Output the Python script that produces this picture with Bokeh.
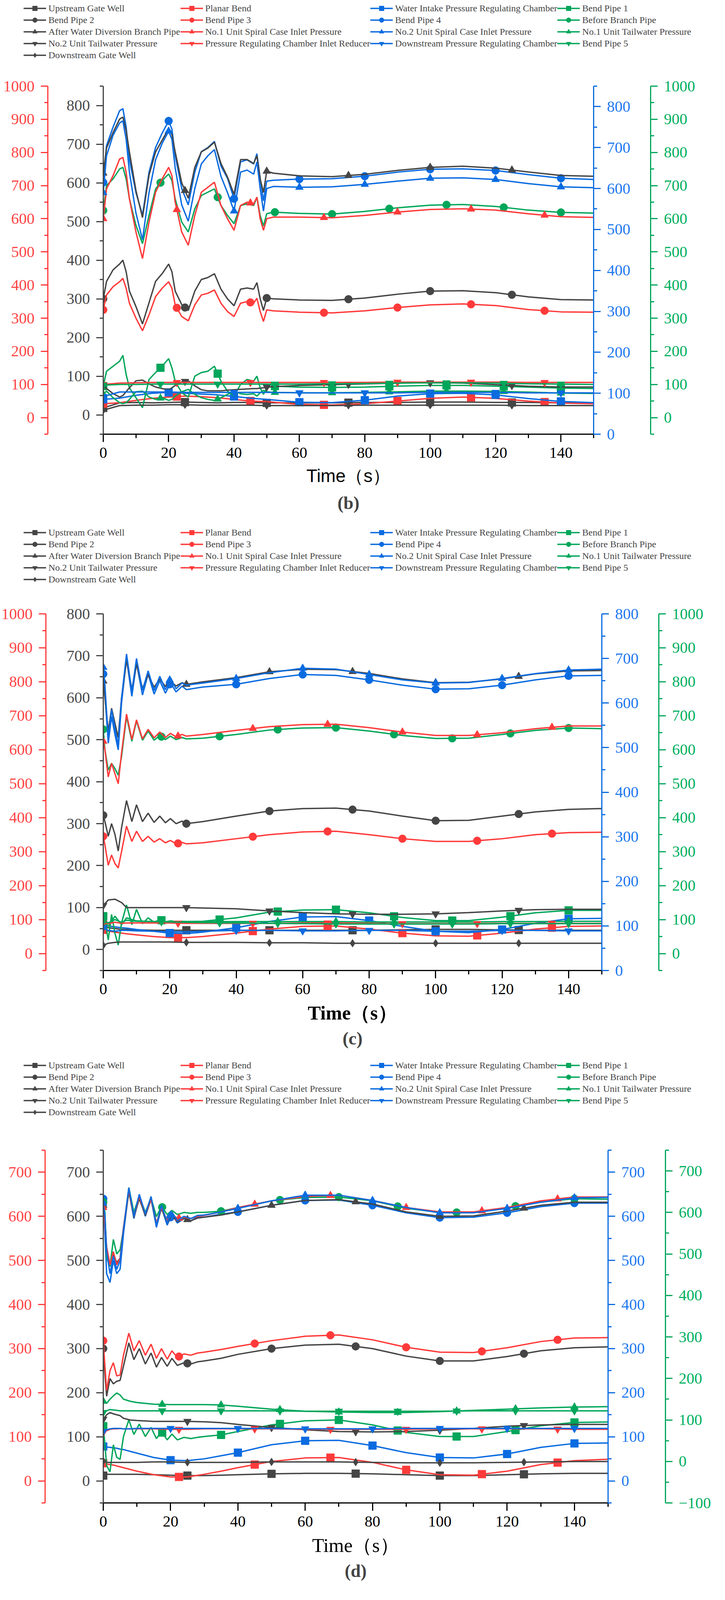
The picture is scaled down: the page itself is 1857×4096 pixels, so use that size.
import numpy as np
from bokeh.plotting import figure
from bokeh.models import (Range1d, LinearAxis, SingleIntervalTicker, Legend,
                          LegendItem, Title, ColumnDataSource)
from bokeh.layouts import column, row
from bokeh.embed import file_html
from bokeh.resources import INLINE

NAMES = ["Upstream Gate Well", "Planar Bend", "Water Intake Pressure Regulating Chamber", "Bend Pipe 1",
         "Bend Pipe 2", "Bend Pipe 3", "Bend Pipe 4", "Before Branch Pipe",
         "After Water Diversion Branch Pipe", "No.1 Unit Spiral Case Inlet Pressure",
         "No.2 Unit Spiral Case Inlet Pressure", "No.1 Unit Tailwater Pressure",
         "No.2 Unit Tailwater Pressure", "Pressure Regulating Chamber Inlet Reducer",
         "Downstream Pressure Regulating Chamber", "Bend Pipe 5", "Downstream Gate Well"]
COLORS = ["#454545", "#ff3a3a", "#0a6be0", "#00a65a"]
LABEL_COLORS = ["#4a4a4a", "#ff4545", "#2079f0", "#00b060"]
MARKERS = ["square", "circle", "triangle", "inverted_triangle", "diamond"]
AXIS_NAME = [None, "red", "blue", "green"]
MARK_T = [[0, 25, 50, 75, 100, 125],
          [0, 22.5, 45, 67.5, 90, 112.5, 135],
          [0, 20, 40, 60, 80, 100, 120, 140],
          [0, 17.5, 35, 52.5, 70, 87.5, 105, 122.5, 140]]

# ---------------- panel (b) ----------------
B_T = [0, 1, 3, 5, 6, 7, 8, 10, 12, 14, 16, 18, 20, 21, 22, 24, 26, 28, 30, 32, 34, 36, 38, 40, 42,
       44, 46, 47, 48, 49, 50, 52, 60, 70, 80, 90, 100, 110, 120, 130, 140, 150]
B_TS = [0, 5, 10, 15, 20, 25, 30, 35, 40, 45, 50, 60, 70, 80, 90, 100, 110, 120, 130, 140, 150]
B_AFTER = [625, 690, 730, 765, 770, 735, 680, 580, 510, 620, 680, 710, 740, 725, 680, 600, 560, 640, 680, 690, 705,
           650, 615, 570, 660, 660, 650, 670, 610, 575, 630, 625, 618, 616, 622, 632, 640, 643, 638, 628, 619, 617]
B_BEND4 = [615, 705, 750, 790, 795, 750, 670, 590, 535, 640, 700, 735, 765, 745, 680, 600, 560, 640, 690, 700, 715,
           655, 625, 575, 665, 670, 660, 685, 625, 570, 618, 620, 623, 624, 630, 640, 647, 648, 644, 634, 625, 622]
B_SPIRAL2 = [590, 680, 730, 760, 765, 720, 640, 540, 475, 590, 670, 710, 740, 720, 650, 560, 520, 600, 660, 680, 695,
             630, 590, 545, 640, 645, 635, 665, 600, 545, 600, 605, 603, 604, 610, 618, 625, 626, 622, 612, 604, 602]
B_SPIRAL1 = [600, 690, 730, 780, 785, 740, 660, 560, 480, 590, 680, 720, 755, 730, 650, 560, 520, 610, 680, 695, 710,
             640, 600, 565, 640, 650, 645, 665, 600, 565, 600, 605, 605, 603, 610, 620, 628, 630, 626, 615, 606, 604]
B_BEFORE = [625, 700, 720, 750, 755, 720, 660, 580, 525, 610, 690, 715, 735, 715, 660, 590, 560, 630, 670, 680, 690,
            640, 610, 585, 640, 645, 640, 665, 610, 578, 615, 620, 616, 614, 622, 633, 641, 643, 637, 626, 619, 617]
B_BEND2 = [300, 345, 375, 390, 400, 370, 320, 280, 235, 290, 345, 365, 390, 370, 320, 285, 270, 320, 350, 355, 365,
           325, 300, 282, 325, 328, 325, 342, 300, 270, 302, 300, 297, 296, 302, 312, 320, 321, 316, 305, 298, 297]
B_BEND3 = [325, 370, 395, 410, 420, 390, 345, 300, 262, 310, 365, 390, 410, 390, 340, 305, 292, 340, 370, 375, 385,
           345, 320, 305, 345, 350, 345, 360, 320, 290, 325, 322, 318, 316, 322, 332, 340, 343, 338, 326, 319, 318]
B_BEND1 = [95, 140, 155, 170, 188, 130, 90, 60, 30, 115, 136, 155, 178, 150, 110, 75, 62, 125, 136, 140, 155,
           110, 80, 65, 100, 115, 110, 125, 90, 70, 90, 95, 92, 91, 92, 95, 97, 97, 95, 92, 89, 88]
B_TAIL1 = [70, 80, 60, 45, 42, 45, 55, 78, 80, 62, 55, 60, 52, 55, 65, 78, 85, 70, 60, 55, 52,
           60, 70, 80, 72, 70, 72, 65, 75, 82, 78, 76, 75, 75, 76, 78, 80, 80, 79, 77, 74, 73]
B_TAIL2 = [75, 68, 55, 46, 50, 60, 70, 88, 90, 80, 72, 68, 65, 70, 76, 85, 88, 75, 65, 62, 62,
           62, 64, 65, 66, 67, 68, 68, 69, 70, 72, 73, 76, 78, 80, 82, 83, 82, 78, 74, 72, 72]
B_UPSTREAM = [18, 31, 32, 31, 32, 33, 32, 31, 32, 32, 31, 31, 31, 32, 32, 33, 33, 32, 32, 31, 31]
B_DOWN_GATE = [12, 24, 25, 25, 26, 26, 25, 25, 25, 25, 24, 24, 24, 25, 25, 25, 25, 25, 24, 24, 24]
B_PLANAR = [42, 45, 52, 58, 62, 65, 63, 60, 55, 50, 48, 40, 38, 42, 50, 58, 62, 58, 50, 44, 42]
B_REDUCER = [100, 104, 105, 106, 106, 106, 106, 106, 106, 106, 106, 106, 106, 106, 107, 107, 107, 107, 106, 106, 106]
B_INTAKE = [85, 88, 95, 100, 102, 100, 98, 96, 92, 88, 85, 78, 77, 83, 93, 99, 100, 96, 87, 80, 77]
B_DOWN_PRC = [92, 103, 103, 103, 103, 102, 102, 102, 102, 102, 102, 101, 101, 101, 101, 102, 102, 102, 101, 101, 101]
B_BEND5 = [98, 100, 100, 101, 101, 101, 101, 101, 101, 101, 101, 101, 102, 103, 104, 105, 105, 104, 102, 101, 100]

# ---------------- panel (c) ----------------
C_T = [0, 0.5, 1.5, 2.5, 3.5, 4.5, 5.5, 7, 8.6, 10, 11.8, 13.5, 15.3, 17, 18.7, 20.2, 21.9, 23.7, 25, 30, 40, 50,
       60, 70, 80, 90, 100, 110, 120, 130, 140, 150]
C_TS = [0, 1.5, 3.5, 5.5, 7, 10, 15, 20, 25, 30, 40, 50, 60, 70, 80, 90, 100, 110, 120, 130, 140, 150]
C_AFTER = [640, 600, 520, 575, 540, 505, 600, 690, 620, 680, 622, 655, 625, 645, 627, 640, 628, 636, 632, 638, 648,
           662, 668, 667, 658, 645, 636, 637, 645, 657, 664, 665]
C_BEND4 = [665, 620, 510, 570, 530, 495, 600, 700, 615, 690, 618, 665, 620, 650, 622, 645, 625, 638, 630, 636, 642,
           655, 664, 662, 652, 640, 631, 632, 640, 652, 661, 662]
C_SPIRAL2 = [680, 640, 520, 585, 545, 505, 610, 710, 625, 700, 628, 672, 628, 660, 630, 655, 632, 645, 640, 645, 655,
             668, 678, 676, 664, 652, 645, 646, 655, 666, 674, 676]
C_SPIRAL1 = [625, 600, 520, 560, 530, 500, 590, 705, 630, 688, 632, 660, 635, 652, 636, 648, 638, 645, 640, 645, 657,
             668, 674, 675, 665, 652, 642, 642, 650, 662, 670, 670]
C_BEFORE = [660, 600, 540, 560, 545, 525, 580, 698, 625, 685, 628, 655, 628, 642, 630, 640, 630, 636, 632, 634, 645,
            658, 664, 665, 655, 642, 633, 634, 645, 657, 664, 662]
C_BEND2 = [320, 305, 270, 300, 275, 235, 290, 355, 305, 345, 305, 325, 303, 318, 302, 312, 300, 306, 300, 305, 318,
           330, 336, 337, 330, 318, 307, 308, 318, 328, 334, 336]
C_BEND3 = [345, 320, 260, 290, 265, 252, 300, 375, 330, 360, 330, 345, 328, 338, 326, 333, 323, 327, 323, 326, 338,
           350, 358, 360, 350, 338, 330, 330, 338, 350, 356, 357]
C_BEND1 = [110, 100, 40, 115, 60, 25, 90, 143, 85, 130, 88, 105, 92, 100, 93, 96, 94, 95, 94, 95, 105,
           122, 128, 129, 120, 106, 97, 97, 107, 120, 127, 127]
C_TAIL2 = [105, 118, 120, 112, 100, 100, 100, 100, 100, 99, 97, 92, 88, 85, 84, 84, 85, 88, 92, 95, 96, 96]
C_TAIL1 = [100, 80, 110, 85, 105, 96, 94, 94, 94, 94, 94, 94, 94, 94, 93, 93, 93, 93, 94, 94, 95, 95]
C_BEND5 = [95, 90, 100, 92, 98, 95, 94, 93, 92, 91, 90, 89, 88, 87, 87, 87, 87, 87, 88, 88, 88, 88]
C_INTAKE = [102, 100, 98, 96, 95, 92, 88, 84, 83, 86, 96, 110, 120, 121, 112, 99, 88, 85, 92, 106, 116, 117]
C_DOWN_PRC = [96, 90, 88, 90, 90, 89, 88, 87, 87, 88, 90, 90, 89, 89, 90, 90, 88, 88, 90, 90, 89, 89]
C_PLANAR = [70, 66, 63, 60, 58, 55, 50, 47, 47, 50, 60, 72, 80, 81, 72, 60, 52, 51, 60, 72, 80, 81]
C_REDUCER = [90, 88, 92, 89, 90, 90, 90, 90, 89, 89, 89, 89, 90, 90, 89, 88, 88, 88, 89, 89, 89, 89]
C_UPSTREAM = [55, 52, 50, 48, 48, 47, 46, 46, 46, 46, 46, 46, 46, 46, 46, 47, 48, 48, 47, 46, 46, 46]
C_DOWN_GATE = [10, 15, 17, 18, 18, 18, 18, 18, 17, 17, 17, 16, 16, 15, 15, 15, 15, 15, 15, 15, 15, 15]

# ---------------- panel (d) ----------------
D_T = [0, 0.5, 1, 2, 3, 4, 5, 6, 7.6, 9.1, 10.7, 12.5, 14.2, 15.8, 17.3, 19, 20.4, 22, 24, 26, 28, 30, 35, 40,
       50, 60, 70, 80, 90, 100, 110, 120, 130, 140, 150]
D_TS = [0, 1, 2, 3, 4, 5, 6, 8, 10, 15, 20, 25, 30, 35, 40, 50, 60, 70, 80, 90, 100, 110, 120, 130, 140, 150]
D_BEND4 = [640, 560, 470, 450, 500, 470, 480, 560, 660, 595, 645, 600, 640, 575, 620, 580, 605, 585, 595, 590, 598,
           598, 605, 610, 625, 636, 637, 625, 608, 597, 598, 608, 622, 630, 630]
D_SPIRAL2 = [630, 600, 520, 470, 510, 480, 500, 570, 665, 600, 650, 605, 645, 580, 625, 585, 610, 590, 600, 595, 602,
             603, 610, 618, 635, 648, 648, 636, 620, 608, 608, 618, 632, 642, 643]
D_AFTER = [625, 590, 530, 490, 515, 495, 505, 570, 655, 598, 640, 602, 638, 582, 618, 585, 603, 588, 595, 590, 596,
           598, 603, 610, 625, 636, 638, 628, 610, 600, 601, 612, 625, 632, 632]
D_SPIRAL1 = [620, 580, 530, 490, 520, 490, 505, 575, 660, 600, 645, 605, 640, 585, 620, 590, 605, 595, 598, 595, 600,
             602, 610, 620, 635, 645, 648, 636, 620, 610, 610, 620, 635, 644, 644]
D_BEFORE = [625, 600, 490, 470, 535, 500, 510, 560, 660, 600, 640, 600, 635, 590, 615, 595, 605, 595, 600, 598, 600,
            600, 603, 612, 628, 636, 637, 628, 610, 600, 600, 612, 625, 633, 632]
D_BEND3 = [318, 260, 205, 250, 268, 238, 240, 285, 335, 295, 318, 285, 310, 278, 300, 276, 295, 280, 288, 285, 290,
           292, 298, 305, 318, 328, 331, 320, 303, 292, 291, 302, 316, 324, 325]
D_BEND2 = [300, 240, 192, 232, 220, 226, 228, 260, 313, 275, 300, 265, 290, 258, 280, 260, 278, 262, 268, 265, 270,
           272, 278, 287, 300, 308, 310, 300, 283, 272, 272, 282, 295, 302, 304]
D_BEND1 = [85, 40, -10, -25, 40, 10, 5, 60, 100, 65, 90, 60, 82, 55, 72, 52, 66, 52, 58, 55, 58,
           60, 64, 72, 88, 98, 100, 88, 70, 60, 60, 72, 86, 94, 95]
D_TAIL1 = [145, 140, 150, 158, 165, 160, 150, 145, 142, 138, 137, 137, 137, 136, 133, 126, 121, 119, 118, 118, 120,
           123, 126, 129, 131, 132]
D_BEND5 = [118, 122, 125, 124, 123, 122, 122, 122, 122, 122, 122, 122, 122, 122, 122, 122, 121, 121, 121, 121, 121,
           122, 122, 122, 122, 122]
D_TAIL2 = [140, 150, 155, 152, 150, 148, 142, 138, 137, 135, 135, 135, 134, 132, 128, 121, 116, 112, 111, 112, 115,
           119, 124, 127, 128, 128]
D_REDUCER = [110, 114, 117, 118, 118, 119, 118, 118, 118, 118, 117, 117, 118, 118, 118, 118, 117, 117, 117, 117, 118,
             118, 118, 118, 117, 117]
D_DOWN_PRC = [112, 116, 118, 119, 119, 119, 118, 118, 119, 119, 119, 119, 119, 119, 119, 119, 118, 118, 118, 119, 119,
              119, 119, 119, 119, 119]
D_INTAKE = [78, 77, 76, 75, 74, 72, 71, 67, 63, 53, 47, 46, 50, 57, 64, 82, 91, 92, 80, 64, 53, 52, 61, 76, 85, 86]
D_UPSTREAM = [12, 15, 15, 15, 15, 15, 15, 15, 15, 14, 13, 12, 12, 13, 14, 16, 17, 17, 16, 14, 12, 12, 14, 16, 17, 17]
D_DOWN_GATE = [45, 42, 42, 42, 42, 42, 42, 42, 42, 43, 43, 42, 42, 42, 42, 43, 43, 43, 42, 41, 41, 41, 42, 43, 44, 44]
D_PLANAR = [40, 38, 37, 36, 34, 32, 30, 26, 22, 14, 9, 9, 15, 22, 30, 44, 52, 53, 42, 25, 14, 13, 22, 37, 46, 49]

PANEL_B = [(B_TS, B_UPSTREAM), (B_TS, B_PLANAR), (B_TS, B_INTAKE), (B_T, B_BEND1),
           (B_T, B_BEND2), (B_T, B_BEND3), (B_T, B_BEND4), (B_T, B_BEFORE),
           (B_T, B_AFTER), (B_T, B_SPIRAL1), (B_T, B_SPIRAL2), (B_T, B_TAIL1),
           (B_T, B_TAIL2), (B_TS, B_REDUCER), (B_TS, B_DOWN_PRC), (B_TS, B_BEND5), (B_TS, B_DOWN_GATE)]
PANEL_C = [(C_TS, C_UPSTREAM), (C_TS, C_PLANAR), (C_TS, C_INTAKE), (C_T, C_BEND1),
           (C_T, C_BEND2), (C_T, C_BEND3), (C_T, C_BEND4), (C_T, C_BEFORE),
           (C_T, C_AFTER), (C_T, C_SPIRAL1), (C_T, C_SPIRAL2), (C_TS, C_TAIL1),
           (C_TS, C_TAIL2), (C_TS, C_REDUCER), (C_TS, C_DOWN_PRC), (C_TS, C_BEND5), (C_TS, C_DOWN_GATE)]
PANEL_D = [(D_TS, D_UPSTREAM), (D_TS, D_PLANAR), (D_TS, D_INTAKE), (D_T, D_BEND1),
           (D_T, D_BEND2), (D_T, D_BEND3), (D_T, D_BEND4), (D_T, D_BEFORE),
           (D_T, D_AFTER), (D_T, D_SPIRAL1), (D_T, D_SPIRAL2), (D_TS, D_TAIL1),
           (D_TS, D_TAIL2), (D_TS, D_REDUCER), (D_TS, D_DOWN_PRC), (D_TS, D_BEND5), (D_TS, D_DOWN_GATE)]

# ranges: gray(left inner), red(left outer), blue(right inner), green(right outer)
RANGES_B = [(-50, 850), (-50, 1000), (0, 850), (-50, 1000)]
RANGES_C = [(-50, 800), (-50, 1000), (0, 800), (-50, 1000)]
RANGES_D = [(-50, 750), (-50, 750), (-50, 750), (-100, 750)]

W = 1840
LW = 3.5
MS = 20
FONT = "Liberation Serif"


def style_axis(ax, color, label_color, tick_out=18, minor_out=9):
    ax.axis_line_color = color
    ax.axis_line_width = 3
    ax.major_tick_line_color = color
    ax.major_tick_line_width = 3
    ax.minor_tick_line_color = color
    ax.minor_tick_line_width = 3
    ax.major_tick_in = 0
    ax.major_tick_out = tick_out
    ax.minor_tick_in = 0
    ax.minor_tick_out = minor_out
    ax.major_label_text_color = label_color
    ax.major_label_text_font = FONT
    ax.major_label_text_font_size = "40px"
    ax.major_label_standoff = 16


def pad_axis(ax, pad):
    ax.axis_label = " "
    ax.axis_label_text_font_size = "10px"
    ax.axis_label_standoff = pad


def make_legend(height, bottom):
    lf = figure(width=W, height=height, x_range=Range1d(0, 1), y_range=Range1d(0, 1),
                x_axis_type=None, y_axis_type=None, toolbar_location=None,
                output_backend="svg", min_border=0, outline_line_color=None)
    items = []
    for i, name in enumerate(NAMES):
        ci = i % 4
        # a single sample point outside the (empty) view: only the legend glyph is seen
        src = ColumnDataSource(data=dict(x=[-5, -4], y=[-5, -5]))
        lr = lf.line("x", "y", source=src, color=COLORS[ci], line_width=LW)
        sr = lf.scatter("x", "y", source=src, marker=MARKERS[i // 4], color=COLORS[ci], size=MS)
        items.append(LegendItem(label=name, renderers=[lr, sr]))
    leg = Legend(items=items, orientation="horizontal", ncols=4, location=(60, bottom),
                 padding=0, margin=0, spacing=0, glyph_width=58, glyph_height=30,
                 label_standoff=6, label_text_font=FONT, label_text_font_size="24px",
                 label_height=30, border_line_color=None, background_fill_alpha=0)
    lf.add_layout(leg)
    return lf


def make_panel(data, ranges, frame_w, frame_h, mbl, mbr, mbt, mbb, gray_pad, blue_pad,
               tag, time_font, time_style, time_size, tag_standoff):
    p = figure(frame_width=frame_w, frame_height=frame_h,
               x_range=Range1d(0, 150), y_range=Range1d(*ranges[0]),
               toolbar_location=None, output_backend="svg",
               min_border_left=mbl, min_border_right=mbr, min_border_top=mbt, min_border_bottom=mbb)
    p.extra_y_ranges = {"red": Range1d(*ranges[1]), "blue": Range1d(*ranges[2]),
                        "green": Range1d(*ranges[3])}
    p.xgrid.visible = False
    p.ygrid.visible = False
    p.outline_line_color = None

    gray_ax = p.yaxis[0]
    red_ax = LinearAxis(y_range_name="red")
    blue_ax = LinearAxis(y_range_name="blue")
    green_ax = LinearAxis(y_range_name="green")
    p.add_layout(red_ax, "left")
    p.add_layout(blue_ax, "right")
    p.add_layout(green_ax, "right")
    for ax, ci in [(gray_ax, 0), (red_ax, 1), (blue_ax, 2), (green_ax, 3)]:
        ax.ticker = SingleIntervalTicker(interval=100, num_minor_ticks=2)
        style_axis(ax, COLORS[ci], LABEL_COLORS[ci])
    pad_axis(gray_ax, gray_pad)
    pad_axis(blue_ax, blue_pad)

    xa = p.xaxis[0]
    xa.ticker = SingleIntervalTicker(interval=20, num_minor_ticks=2)
    style_axis(xa, "black", "black", tick_out=20, minor_out=10)
    xa.major_label_standoff = 14
    xa.axis_label = "Time（s）"
    xa.axis_label_text_font = time_font
    xa.axis_label_text_font_style = time_style
    xa.axis_label_text_font_size = time_size
    xa.axis_label_text_color = "black"
    xa.axis_label_standoff = 17

    for i, (t, v) in enumerate(data):
        if len(t) != len(v):
            raise ValueError("length mismatch in series %d (%s): %d vs %d" % (i, NAMES[i], len(t), len(v)))
        ci = i % 4
        kw = {} if AXIS_NAME[ci] is None else {"y_range_name": AXIS_NAME[ci]}
        p.line(t, v, color=COLORS[ci], line_width=LW, **kw)
        mt = [m for m in MARK_T[ci] if m <= t[-1]]
        my = np.interp(mt, t, v)
        p.scatter(mt, my, marker=MARKERS[i // 4], size=MS, color=COLORS[ci], **kw)

    p.add_layout(Title(text=tag, align="center", text_font=FONT, text_font_style="bold",
                       text_font_size="46px", standoff=tag_standoff), "below")
    return p


leg_b = make_legend(160, 4)
pb = make_panel(PANEL_B, RANGES_B, 1256, 891, 264, 320, 60, 231, 31, 35,
                "(b)", "Liberation Sans", "normal", "46px", 26)
leg_c = make_legend(160, 4)
pc = make_panel(PANEL_C, RANGES_C, 1277, 913, 262, 301, 69, 222, 36, 35,
                "(c)", FONT, "bold", "50px", 14)
leg_d = make_legend(160, 4)
pd_ = make_panel(PANEL_D, RANGES_D, 1293, 903, 249, 298, 78, 230, 38, 36,
                 "(d)", FONT, "normal", "50px", 14)

layout = column(row(leg_b), pb, row(leg_c), pc, row(leg_d), pd_, spacing=0)
open("out.html", "w").write(file_html(layout, INLINE))
